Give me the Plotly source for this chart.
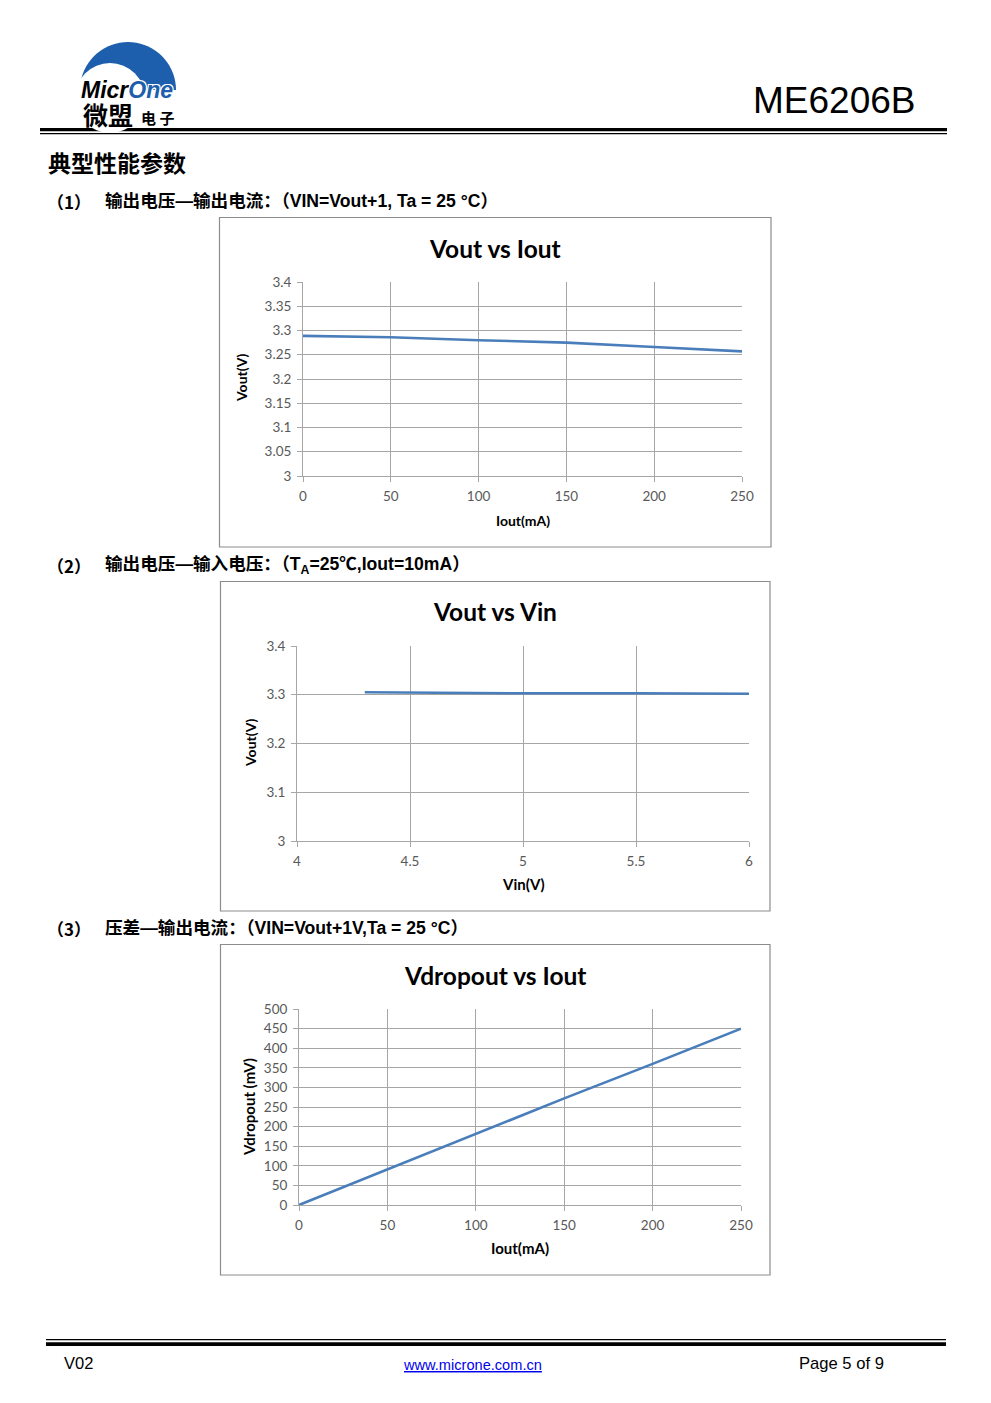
import math
import plotly.graph_objects as go

W, H = 991, 1403

# ---------------- data ----------------
iout1 = [0, 50, 100, 150, 200, 250]
vout1 = [3.289, 3.286, 3.280, 3.275, 3.266, 3.257]

vin2 = [4.3, 4.5, 5.0, 5.5, 6.0]
vout2 = [3.305, 3.304, 3.303, 3.303, 3.302]

iout3 = [0, 50, 100, 150, 200, 250]
vdrop3 = [0, 91, 180, 272, 360, 450]

x1_ticks = [0, 50, 100, 150, 200, 250]
y1_ticks = [3, 3.05, 3.1, 3.15, 3.2, 3.25, 3.3, 3.35, 3.4]
y1_labels = ["3", "3.05", "3.1", "3.15", "3.2", "3.25", "3.3", "3.35", "3.4"]
x2_ticks = [4, 4.5, 5, 5.5, 6]
x2_labels = ["4", "4.5", "5", "5.5", "6"]
y2_ticks = [3, 3.1, 3.2, 3.3, 3.4]
y2_labels = ["3", "3.1", "3.2", "3.3", "3.4"]
x3_ticks = [0, 50, 100, 150, 200, 250]
y3_ticks = [0, 50, 100, 150, 200, 250, 300, 350, 400, 450, 500]


def fx(px):
    return px / W


def fy(py):
    return 1 - py / H


LINE = "#4a7ebb"
GRID = "#a6a6a6"
TICKC = "#595959"
CF = "Lato"

fig = go.Figure()
fig.add_trace(go.Scatter(x=iout1, y=vout1, mode="lines", line=dict(color=LINE, width=2.6),
                         xaxis="x", yaxis="y", showlegend=False))
fig.add_trace(go.Scatter(x=vin2, y=vout2, mode="lines", line=dict(color=LINE, width=2.6),
                         xaxis="x2", yaxis="y2", showlegend=False))
fig.add_trace(go.Scatter(x=iout3, y=vdrop3, mode="lines", line=dict(color=LINE, width=2.6),
                         xaxis="x3", yaxis="y3", showlegend=False))


def axstyle(domain, rng, tv, tt, anchor):
    return dict(domain=domain, range=rng, tickvals=tv, ticktext=tt, anchor=anchor,
                showgrid=True, gridcolor=GRID, gridwidth=1, zeroline=False,
                showline=True, linecolor=GRID, linewidth=1, ticks="outside",
                ticklen=5, tickcolor=GRID, ticklabelstandoff=3,
                tickfont=dict(family=CF, size=13.5, color=TICKC),
                fixedrange=True)


lay = dict(
    width=W, height=H, margin=dict(l=0, r=0, t=0, b=0, pad=0, autoexpand=False),
    paper_bgcolor="white", plot_bgcolor="white", showlegend=False,
    xaxis=axstyle([fx(303), fx(742)], [0, 250], x1_ticks, [str(v) for v in x1_ticks], "y"),
    yaxis=axstyle([fy(476), fy(282)], [3, 3.4], y1_ticks, y1_labels, "x"),
    xaxis2=axstyle([fx(297), fx(749)], [4, 6], x2_ticks, x2_labels, "y2"),
    yaxis2=axstyle([fy(841), fy(646)], [3, 3.4], y2_ticks, y2_labels, "x2"),
    xaxis3=axstyle([fx(299), fx(741)], [0, 250], x3_ticks, [str(v) for v in x3_ticks], "y3"),
    yaxis3=axstyle([fy(1205), fy(1009)], [0, 500], y3_ticks, [str(v) for v in y3_ticks], "x3"),
)
fig.update_layout(**lay)

shapes = []


def rect(x0, y0, x1, y1, fill=None, line=None, lw=1):
    shapes.append(dict(type="rect", xref="paper", yref="paper",
                       x0=fx(x0), x1=fx(x1), y0=fy(y1), y1=fy(y0),
                       fillcolor=fill if fill else "rgba(0,0,0,0)",
                       line=dict(color=line if line else "rgba(0,0,0,0)", width=lw if line else 0),
                       layer="below"))


# chart boxes
rect(219.5, 217.5, 771, 547, line="#8c8c8c", lw=1.2)
rect(220.5, 581.5, 770, 911, line="#8c8c8c", lw=1.2)
rect(220.5, 944.5, 770, 1275, line="#8c8c8c", lw=1.2)

# header lines
rect(40, 128, 947, 131.3, fill="black")
rect(40, 133, 947, 134.3, fill="black")
# footer lines
rect(46, 1339, 946, 1340.3, fill="black")
rect(46, 1342.3, 946, 1346, fill="black")

# logo: blue dome with white inner circle
cx, cy, r = 128, 90, 48
pts = []
for i in range(0, 181, 5):
    a = math.radians(180 - i)
    pts.append((cx + r * math.cos(a), cy - r * math.sin(a)))
path = "M " + " L ".join(f"{fx(px):.5f},{fy(py):.5f}" for px, py in pts) + " Z"
shapes.append(dict(type="path", xref="paper", yref="paper", path=path,
                   fillcolor="#1d5fac", line=dict(width=0), layer="below"))
wcx, wcy, wr = 110, 98, 35
shapes.append(dict(type="circle", xref="paper", yref="paper",
                   x0=fx(wcx - wr), x1=fx(wcx + wr), y0=fy(wcy + wr), y1=fy(wcy - wr),
                   fillcolor="white", line=dict(width=0), layer="below"))
rect(70, 90.5, 185, 126, fill="white")

fig.update_layout(shapes=shapes)

ann = []


def text(x, y, s, size, color="black", family="Liberation Sans", xanchor="left",
         angle=0, shadow=None):
    f = dict(family=family, size=size, color=color)
    if shadow:
        f["shadow"] = shadow
    ann.append(dict(x=fx(x), y=fy(y), xref="paper", yref="paper", text=s, showarrow=False,
                    xanchor=xanchor, yanchor="middle", font=f, textangle=angle))


# logo texts
text(79, 90, "<b><i>Micr<span style='color:#1d5fac'>One</span></i></b>", 23,
     shadow="1px 1px 0 white, -1px -1px 0 white, 1px -1px 0 white, -1px 1px 0 white")
text(81, 114, "<b>微盟</b>", 25, family="Noto Sans CJK SC")
text(139, 117, "<b>电 子</b>", 15, family="Noto Sans CJK SC")

# header
text(918, 100, "ME6206B", 37, xanchor="right")

# section headings
MIX = "Liberation Sans, Noto Sans CJK SC"
CJK = "Noto Sans CJK SC"
text(46, 162, "<b>典型性能参数</b>", 23, family=CJK)
text(45, 201, "<b>（1）</b>", 17, family=CJK)
text(103, 201, "<b>输出电压—输出电流：（VIN=Vout+1, Ta = 25 °C）</b>", 17.6, family=MIX)
text(45, 565, "<b>（2）</b>", 17, family=CJK)
text(103, 565, "<b>输出电压—输入电压：（T<sub>A</sub>=25℃,Iout=10mA）</b>", 17.6, family=MIX)
text(45, 928, "<b>（3）</b>", 17, family=CJK)
text(103, 928, "<b>压差—输出电流：（VIN=Vout+1V,Ta = 25 °C）</b>", 17.6, family=MIX)

# chart titles
text(495, 248, "<b>Vout vs Iout</b>", 24.5, family=CF, xanchor="center")
text(495, 612, "<b>Vout vs Vin</b>", 24.5, family=CF, xanchor="center")
text(495, 975, "<b>Vdropout vs Iout</b>", 24.5, family=CF, xanchor="center")

# axis titles
text(523, 520, "<b>Iout(mA)</b>", 14, family=CF, xanchor="center")
text(242, 378, "<b>Vout(V)</b>", 14, family=CF, xanchor="center", angle=-90)
text(523, 884, "<b>Vin(V)</b>", 15, family=CF, xanchor="center")
text(250, 743, "<b>Vout(V)</b>", 14, family=CF, xanchor="center", angle=-90)
text(520, 1248, "<b>Iout(mA)</b>", 15, family=CF, xanchor="center")
text(249, 1107, "<b>Vdropout (mV)</b>", 15, family=CF, xanchor="center", angle=-90)

# footer
text(62, 1363, "V02", 16.5)
text(472, 1365, "<u>www.microne.com.cn</u>", 14.6, color="#0000ee", xanchor="center")
text(886, 1363, "Page 5 of 9", 16.6, xanchor="right")

fig.update_layout(annotations=ann)

fig.write_html(
    "out.html",
    config={"displayModeBar": False},
    post_script=(
        "document.documentElement.style.margin='0';"
        "document.body.style.margin='0';"
        "document.body.style.overflow='hidden';"
        "var d=document.getElementById('{plot_id}');"
        "d.style.position='fixed';d.style.left='0px';d.style.top='0px';"
    ),
)
